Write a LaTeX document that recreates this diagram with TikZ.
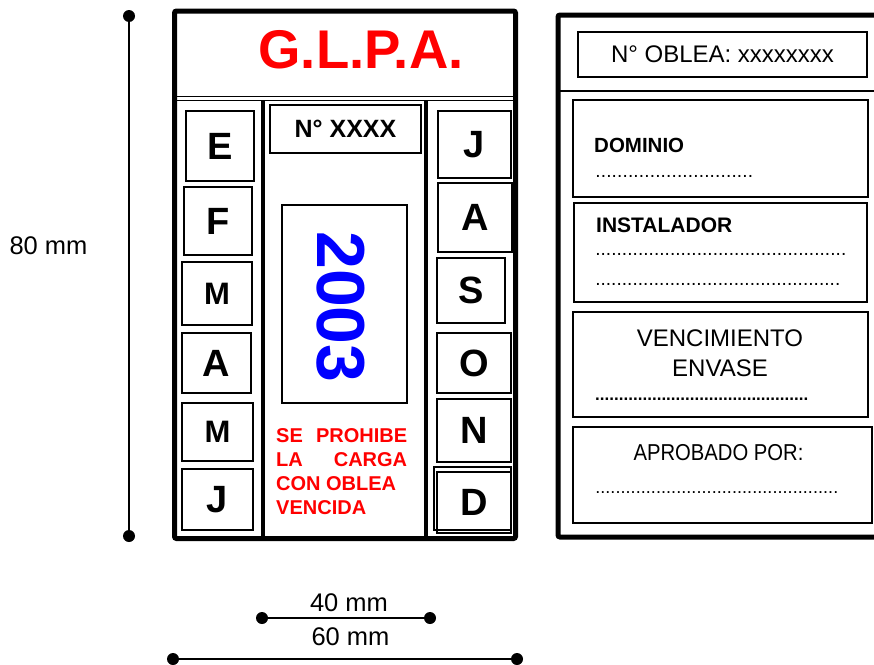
\documentclass[tikz,border=0pt]{standalone}
\usepackage{fontspec}
\usepackage{graphicx}
\setmainfont{Liberation Sans}
\newcommand\dotrow[1]{\hbox to #1{\xleaders\hbox{.}\hfill}}
\definecolor{glpared}{RGB}{255,0,0}
\definecolor{glpablue}{RGB}{0,0,255}
\begin{document}
\begin{tikzpicture}[x=1pt,y=-1pt,
  frame/.style={line width=5pt, rounded corners=2pt},
  divider/.style={line width=4pt},
  thinline/.style={line width=1.5pt},
  lbox/.style={draw, line width=1.6pt, inner sep=0, font=\fontsize{38}{40}\selectfont\bfseries},
  mbox/.style={lbox, font=\fontsize{31}{33}\selectfont\bfseries},
  rbox/.style={draw, line width=1.6pt, inner sep=0},
  dimline/.style={line width=2pt},
  dimdot/.style={circle, fill, inner sep=0, minimum size=12pt},
  dimlabel/.style={font=\fontsize{25.5}{27}\selectfont, inner sep=0},
  txt/.style={inner sep=0}]
\useasboundingbox (0,0) rectangle (874,664);
% ---- left panel ----
\draw[frame] (174.5,11) rectangle (515.5,538.5);
\draw[thinline] (174.5,96.7) -- (515.5,96.7);
\draw[thinline] (174.5,100.7) -- (515.5,100.7);
\draw[divider] (263,100) -- (263,538);
\draw[divider] (426,100) -- (426,538);
\node[txt, anchor=base, text=glpared, font=\fontsize{54.5}{56}\selectfont\bfseries] (title) at (361,68) {G.L.P.A.};
% left months
\node[lbox, minimum width=68pt, minimum height=70pt] (e) at (220,146) {E};
\node[lbox, minimum width=68pt, minimum height=68pt] (f) at (218,221) {F};
\node[mbox, minimum width=70pt, minimum height=63pt] (m1) at (217,293.5) {M};
\node[lbox, minimum width=69pt, minimum height=60pt] (a1) at (216.5,363) {A};
\node[mbox, minimum width=71pt, minimum height=58pt] (m2) at (217.5,432) {M};
\node[lbox, minimum width=71pt, minimum height=61pt] (j1) at (217.5,499.5) {J};
% right months
\node[lbox, minimum width=73pt, minimum height=67pt] (j2) at (474.5,144.5) {J};
\node[lbox, minimum width=74pt, minimum height=69pt] (a2) at (475,217.5) {A};
\node[lbox, minimum width=68pt, minimum height=65pt] (s) at (471,290.5) {S};
\node[lbox, minimum width=74pt, minimum height=60pt] (o) at (474,363) {O};
\node[lbox, minimum width=74pt, minimum height=63pt] (n) at (474,430.5) {N};
\draw[line width=1.6pt] (434,467) rectangle (511,530);
\node[lbox, minimum width=74pt, minimum height=61pt] (d) at (474,502.5) {D};
% centre column
\node[rbox, minimum width=151pt, minimum height=48pt, font=\fontsize{25}{27}\selectfont\bfseries] (num) at (345.5,129) {N° XXXX};
\node[rbox, minimum width=125pt, minimum height=198pt] (yearbox) at (344.5,304) {};
\node[txt, rotate=-90, text=glpablue, font=\fontsize{68}{70}\selectfont\bfseries] (year) at (341,307) {2003};
\node[txt, anchor=north west, align=left, text=glpared, font=\fontsize{20}{24}\selectfont\bfseries] (warn) at (276,428.7)
  {\makebox[131pt][s]{SE PROHIBE}\\\makebox[131pt][s]{LA CARGA}\\CON OBLEA\\VENCIDA};
% ---- right panel ----
\draw[frame] (880,15) -- (558,15) -- (558,537) -- (880,537);
\draw[thinline] (558,91) -- (880,91);
\node[rbox, minimum width=289pt, minimum height=45pt, font=\fontsize{24}{26}\selectfont] (oblea) at (722.5,54.5) {N° OBLEA: xxxxxxxx};
\node[rbox, minimum width=295pt, minimum height=97pt] (dombox) at (720.5,148.5) {};
\node[txt, anchor=base west, font=\fontsize{20.5}{22}\selectfont\bfseries] (dom) at (594,152) {DOMINIO};
\node[txt, anchor=base west, font=\fontsize{19}{21}\selectfont] (domdots) at (595,177) {\dotrow{158pt}};
\node[rbox, minimum width=293pt, minimum height=99pt] (instbox) at (720.5,252.5) {};
\node[txt, anchor=base west, font=\fontsize{21}{23}\selectfont\bfseries] (inst) at (596,232) {INSTALADOR};
\node[txt, anchor=base west, font=\fontsize{19}{21}\selectfont] (instdots1) at (595,255) {\dotrow{251pt}};
\node[txt, anchor=base west, font=\fontsize{19}{21}\selectfont] (instdots2) at (595,285) {\dotrow{245pt}};
\node[rbox, minimum width=295pt, minimum height=105pt] (vencbox) at (720.5,364.5) {};
\node[txt, anchor=north, align=center, font=\fontsize{24}{30}\selectfont] (venc) at (720,330) {VENCIMIENTO\\ENVASE};
\node[txt, anchor=base west, font=\fontsize{17}{19}\selectfont\bfseries] (vencdots) at (595,400) {\dotrow{213pt}};
\node[rbox, minimum width=299pt, minimum height=96pt] (aprobox) at (722.5,475) {};
\node[txt, anchor=base, font=\fontsize{23}{25}\selectfont] (apro) at (718.5,460) {\scalebox{0.88}[1]{APROBADO POR:}};
\node[txt, anchor=base west, font=\fontsize{18}{20}\selectfont] (aprodots) at (595,493) {\dotrow{243pt}};
% ---- dimensions ----
\node[dimdot] (v1) at (129,16) {};
\node[dimdot] (v2) at (129,536) {};
\draw[dimline] (v1.center) -- (v2.center);
\node[dimlabel, anchor=base] (l80) at (48.5,254) {80 mm};
\node[dimdot] (h1) at (262,618) {};
\node[dimdot] (h2) at (430,618) {};
\draw[dimline] (h1.center) -- (h2.center);
\node[dimlabel, anchor=base] (l40) at (349,611.5) {40 mm};
\node[dimdot] (w1) at (173,659) {};
\node[dimdot] (w2) at (517,659) {};
\draw[dimline] (w1.center) -- (w2.center);
\node[dimlabel, anchor=base] (l60) at (350.5,645) {60 mm};
\end{tikzpicture}
\end{document}
